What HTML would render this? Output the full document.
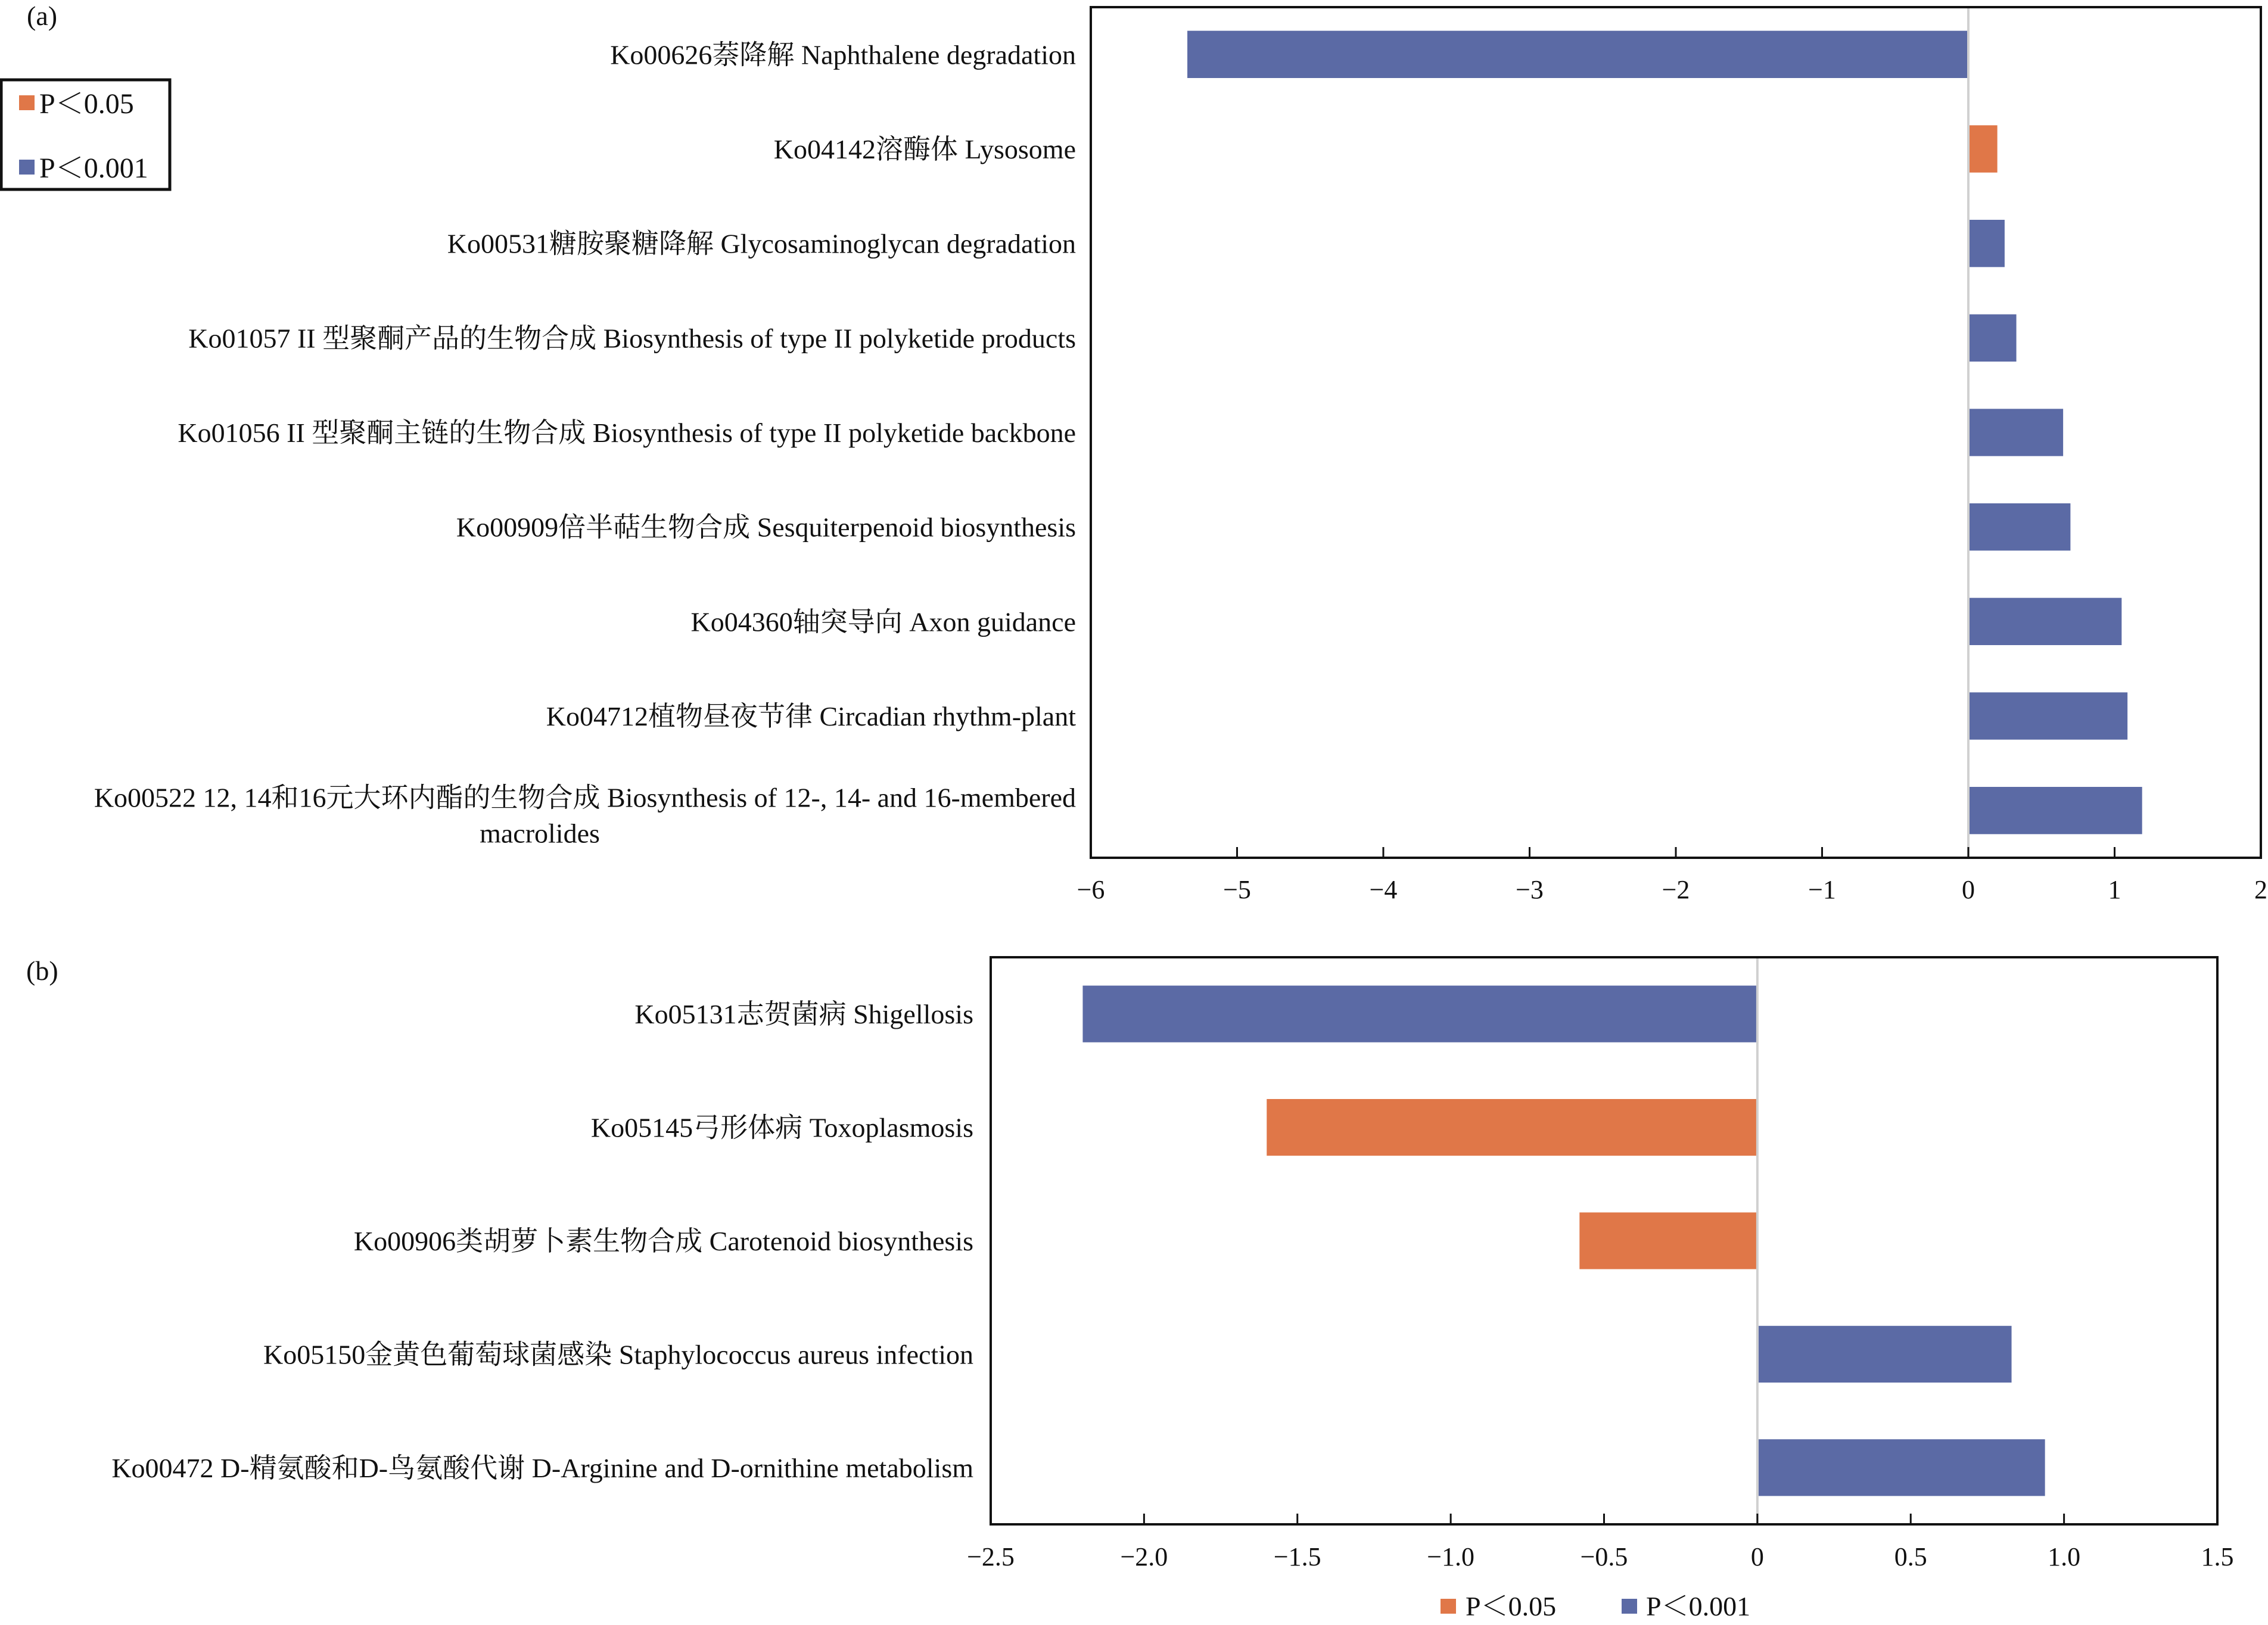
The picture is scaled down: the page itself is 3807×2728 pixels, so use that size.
<!DOCTYPE html>
<html><head><meta charset="utf-8"><style>
html,body{margin:0;padding:0;background:#fff}
svg{display:block}
text{font-family:"Liberation Serif","Noto Serif CJK SC","Noto Sans CJK SC",serif;fill:#111}
</style></head><body>
<svg id="fig" width="3807" height="2728" viewBox="0 0 3807 2728" xmlns="http://www.w3.org/2000/svg">
<rect width="3807" height="2728" fill="#fff"/>
<text x="45" y="42" font-size="46">(a)</text>
<text x="44" y="1645" font-size="46">(b)</text>
<g>
<rect x="2" y="134" width="283" height="184" fill="none" stroke="#111" stroke-width="5"/>
<rect x="32" y="160" width="26" height="25" fill="#e07748"/>
<text x="66" y="190" font-size="48">P＜0.05</text>
<rect x="32" y="268" width="26" height="25" fill="#5b6aa5"/>
<text x="66" y="298" font-size="48">P＜0.001</text>
</g>
<g>
<rect x="2418" y="2684" width="26" height="25" fill="#e07748"/>
<text x="2460" y="2712" font-size="46">P＜0.05</text>
<rect x="2722" y="2684" width="26" height="25" fill="#5b6aa5"/>
<text x="2763" y="2712" font-size="46">P＜0.001</text>
</g>
<g id="ca"></g>
<g id="cb"></g>
</svg>
<script>
const catsA = ["Ko00626萘降解  Naphthalene degradation","Ko04142溶酶体  Lysosome","Ko00531糖胺聚糖降解  Glycosaminoglycan degradation","Ko01057 II 型聚酮产品的生物合成  Biosynthesis of type II polyketide products","Ko01056 II 型聚酮主链的生物合成  Biosynthesis of type II polyketide backbone","Ko00909倍半萜生物合成  Sesquiterpenoid biosynthesis","Ko04360轴突导向  Axon guidance","Ko04712植物昼夜节律  Circadian rhythm-plant","Ko00522 12, 14和16元大环内酯的生物合成  Biosynthesis of 12-, 14- and 16-membered|macrolides"];
const valsA = [-5.34, 0.19, 0.24, 0.32, 0.64, 0.69, 1.04, 1.08, 1.18];
const sigA = ["p001","p05","p001","p001","p001","p001","p001","p001","p001"];
const ticksA = [-6,-5,-4,-3,-2,-1,0,1,2];
const tickLabA = ["−6","−5","−4","−3","−2","−1","0","1","2"];
const catsB = ["Ko05131志贺菌病  Shigellosis","Ko05145弓形体病  Toxoplasmosis","Ko00906类胡萝卜素生物合成  Carotenoid biosynthesis","Ko05150金黄色葡萄球菌感染  Staphylococcus aureus infection","Ko00472 D-精氨酸和D-鸟氨酸代谢  D-Arginine and D-ornithine metabolism"];
const valsB = [-2.20, -1.60, -0.58, 0.825, 0.934];
const sigB = ["p001","p05","p05","p001","p001"];
const ticksB = [-2.5,-2,-1.5,-1,-0.5,0,0.5,1,1.5];
const tickLabB = ["−2.5","−2.0","−1.5","−1.0","−0.5","0","0.5","1.0","1.5"];
const NS="http://www.w3.org/2000/svg";
const COL={p001:"#5b6aa5",p05:"#e07748"};
function mk(g,tag,attrs){const e=document.createElementNS(NS,tag);for(const k in attrs)e.setAttribute(k,attrs[k]);g.appendChild(e);return e;}
function chart(gid,cats,vals,sig,ticks,labs,box,labelX,tickY,prefix){
  const g=document.getElementById(gid);
  const [L,T,R,B]=box; const lo=ticks[0],hi=ticks[ticks.length-1];
  const x=v=>L+(v-lo)/(hi-lo)*(R-L);
  const band=(B-T)/cats.length;
  const y=i=>T+band*(i+0.5);
  cats.forEach((c,i)=>{
    const v=vals[i],x0=x(0),x1=x(v);
    const r=mk(g,"rect",{x:Math.min(x0,x1)+(v>0?2:0),y:y(i)-band*0.25,width:Math.abs(x1-x0),height:band*0.5,fill:COL[sig[i]]});
    
    
    const parts=c.split("|");
    if(parts.length===1){
      const t=mk(g,"text",{x:labelX,y:y(i)+16,"font-size":46,"text-anchor":"end"});t.textContent=parts[0];
      
      
    } else {
      const t=mk(g,"text",{x:labelX,y:y(i)-6,"font-size":46,"text-anchor":"end"});t.textContent=parts[0];
      
      
      const t2=mk(g,"text",{x:906,y:y(i)+54,"font-size":46,"text-anchor":"middle"});t2.textContent=parts[1];
      
      
    }
  });
  const z=mk(g,"line",{x1:x(0),x2:x(0),y1:T,y2:B,stroke:"#d0d0d0","stroke-width":4});
  
  
  const f=mk(g,"rect",{x:L,y:T,width:R-L,height:B-T,fill:"none",stroke:"#111","stroke-width":4});
  
  
  ticks.forEach((t,i)=>{
    const tm=mk(g,"line",{x1:x(t),x2:x(t),y1:B,y2:B-18,stroke:"#111","stroke-width":3});
    
    
    const tl=mk(g,"text",{x:x(t),y:tickY,"font-size":44,"text-anchor":"middle"});tl.textContent=labs[i];
    
    
  });
}
chart("ca",catsA,valsA,sigA,ticksA,tickLabA,[1831,12,3795,1440],1806,1508,"a");
chart("cb",catsB,valsB,sigB,ticksB,tickLabB,[1663,1607,3722,2559],1634,2628,"b");
</script>
</body></html>
